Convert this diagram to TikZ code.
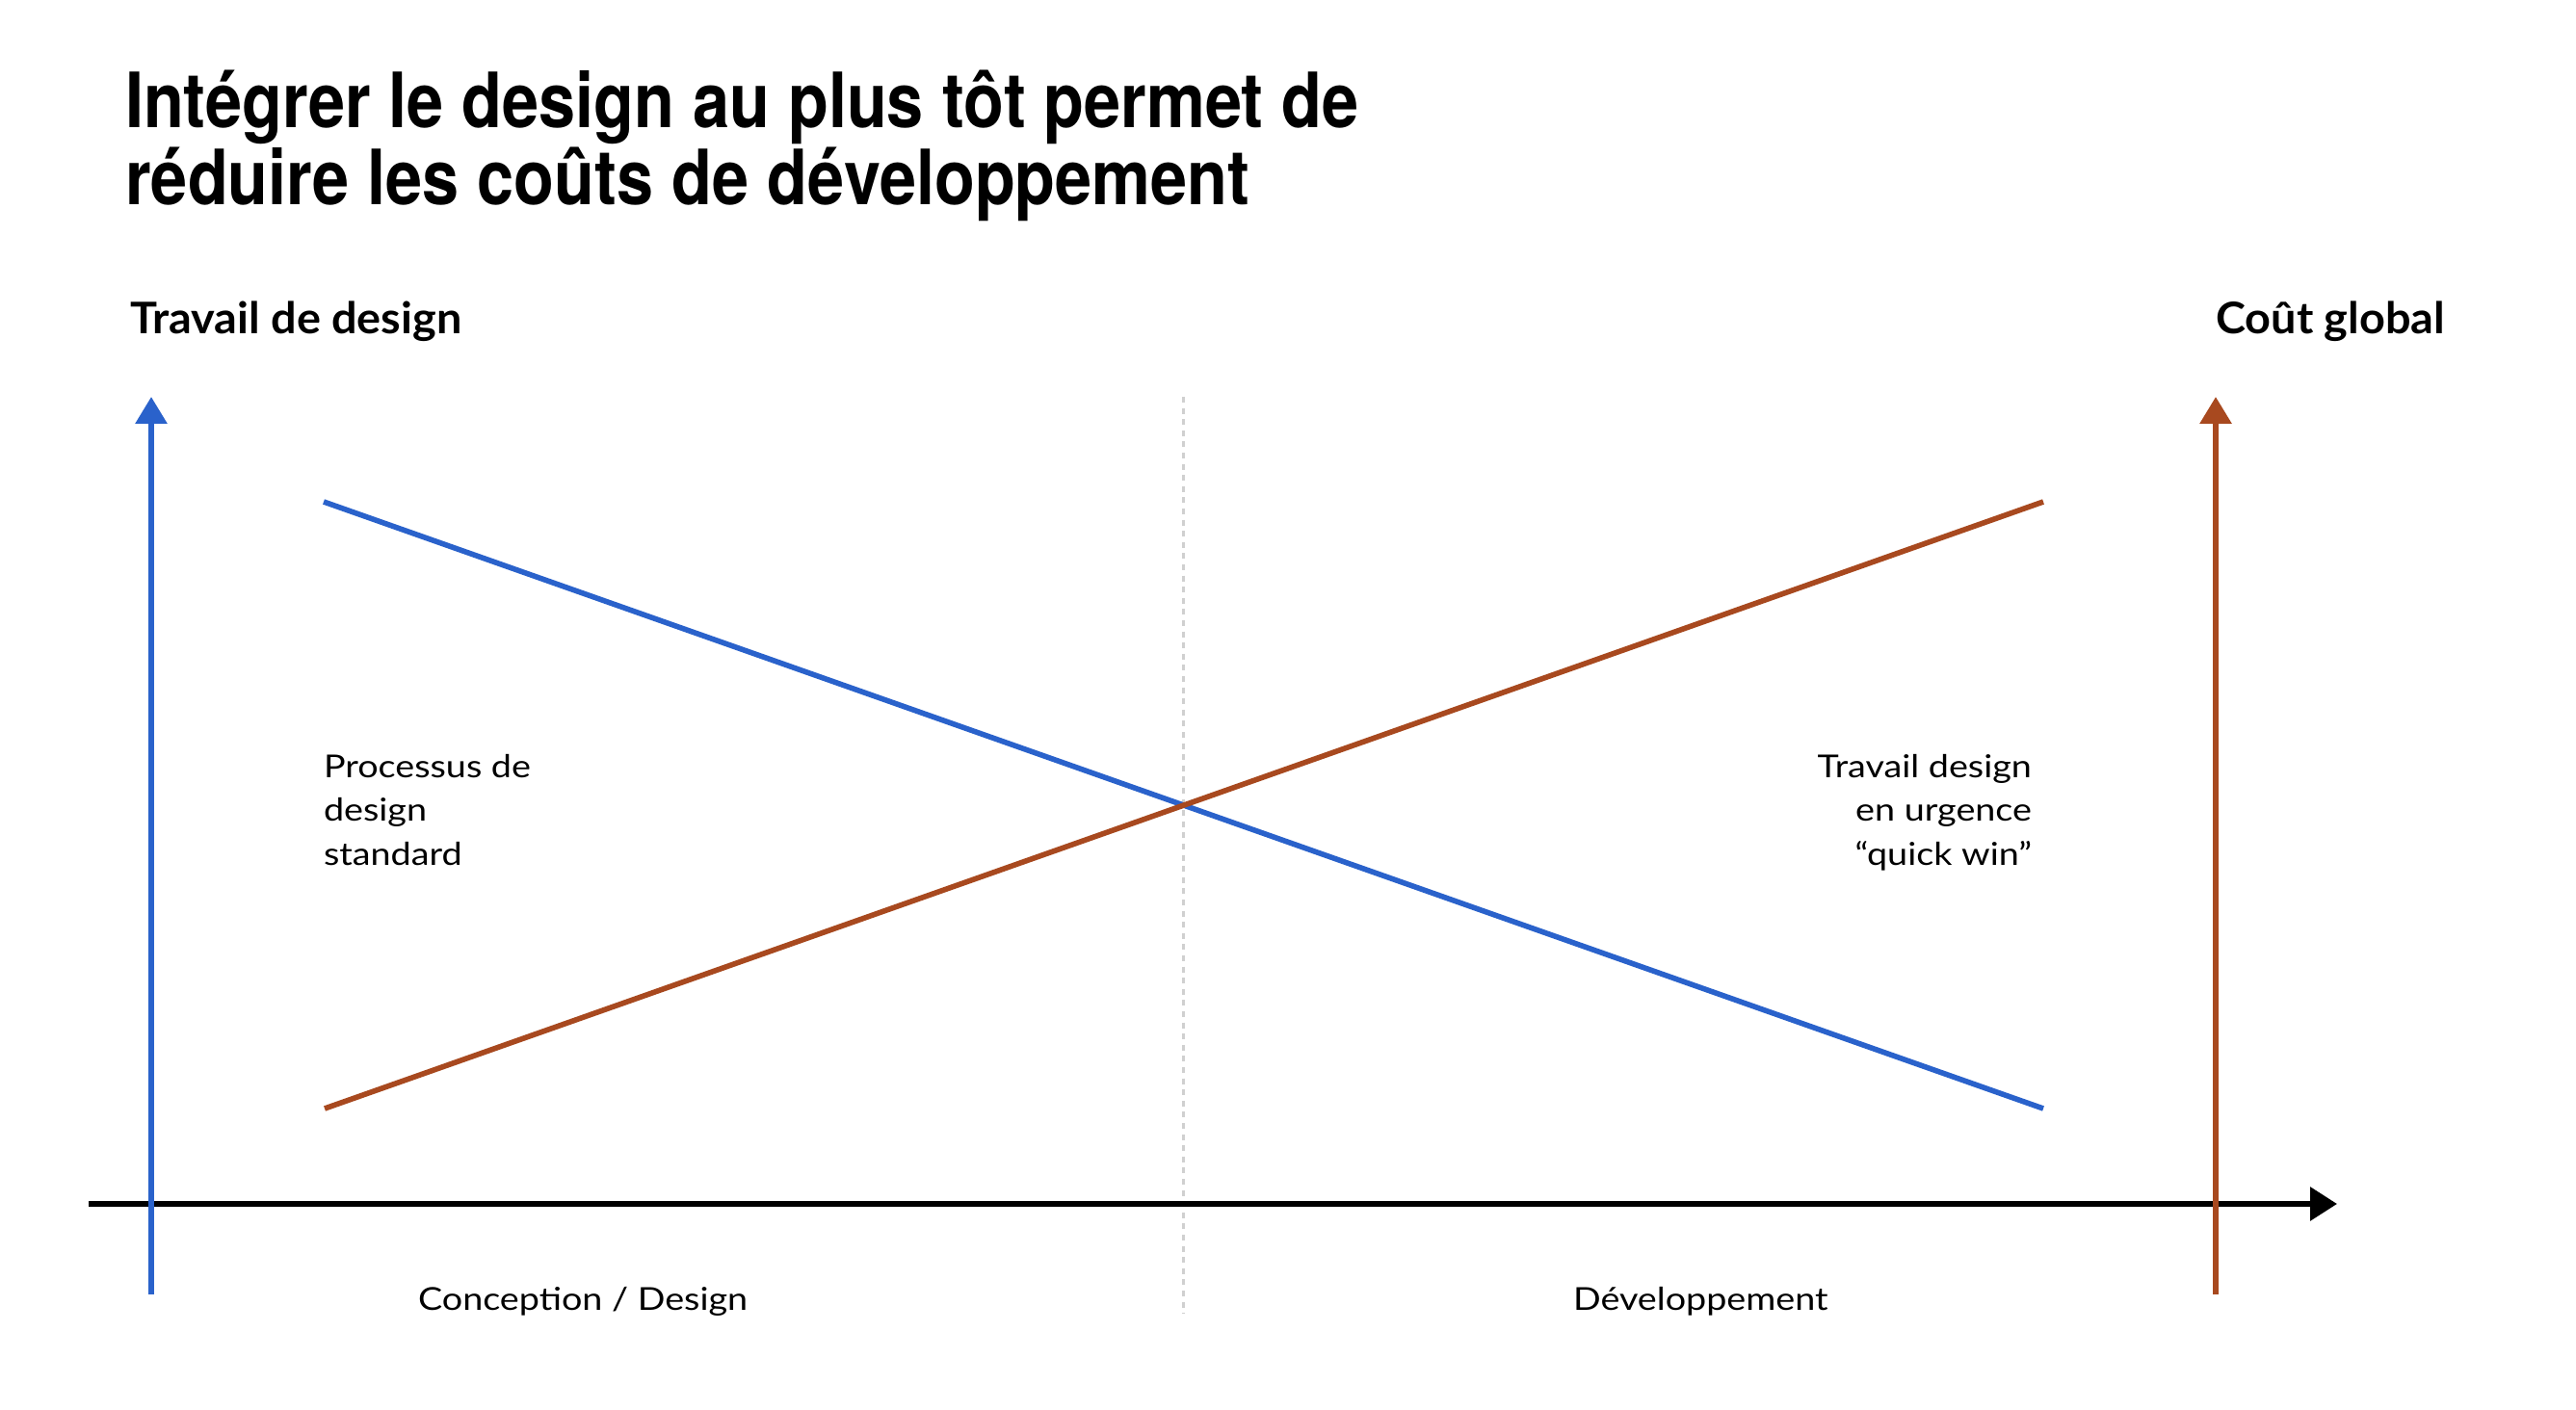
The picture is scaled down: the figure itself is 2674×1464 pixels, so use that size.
\documentclass[tikz,border=0pt]{standalone}
\usepackage{fontspec}
\setmainfont{Lato}
\newfontfamily\titlefont{TeX Gyre Heros}
\usetikzlibrary{arrows.meta}
\definecolor{cblue}{HTML}{2A62CB}
\definecolor{cbrown}{HTML}{A8491F}
\definecolor{cdash}{HTML}{D0D0D0}
\newcommand\sqTitle[1]{\scalebox{0.864}[1]{#1}}
\newcommand\sqAxis[1]{\scalebox{1.035}[1]{#1}}
\newcommand\sqBody[1]{\scalebox{1.15}[1]{#1}}
\begin{document}
\begin{tikzpicture}[x=0.25pt,y=-0.25pt,
  txt/.style={inner sep=0pt, outer sep=0pt, anchor=base west},
  txtr/.style={inner sep=0pt, outer sep=0pt, anchor=base east},
  ttl/.style={txt, font=\titlefont\bfseries\fontsize{19.8}{24}\selectfont},
  axlbl/.style={font=\bfseries\fontsize{11.3}{14}\selectfont},
  body/.style={font=\fontsize{8.2}{11}\selectfont},
  vaxis/.style={line width=1.5pt, -{Triangle[length=7pt,width=8pt]}},
  haxis/.style={line width=1.5pt, -{Triangle[length=7pt,width=8.5pt]}},
  trend/.style={line width=1.4pt},
  divider/.style={cdash, line width=0.75pt, dash pattern=on 1.5pt off 1.4pt}]
\useasboundingbox[fill=white] (0,0) rectangle (2674,1464);

% title
\node[ttl] (t1) at (130,133) {\sqTitle{Intégrer le design au plus tôt permet de}};
\node[ttl] (t2) at (130,213) {\sqTitle{réduire les coûts de développement}};

% axis labels
\node[txt, axlbl] (ly) at (135,347) {\sqAxis{Travail de design}};
\node[txtr, axlbl] (ry) at (2538,347) {\sqAxis{Coût global}};

% coordinates
\coordinate (bb) at (157,1344);
\coordinate (bt) at (157,412);
\coordinate (rb) at (2300,1344);
\coordinate (rt) at (2300,412);
\coordinate (hl) at (92,1250);
\coordinate (hr) at (2426,1250);
\coordinate (dt) at (1228,412);
\coordinate (db) at (1228,1364);
\coordinate (b1) at (336,521);
\coordinate (b2) at (2121,1151);
\coordinate (r1) at (337,1151);
\coordinate (r2) at (2121,521);

% divider
\draw[divider] (dt) -- (db);

% axes
\draw[haxis, black] (hl) -- (hr);
\draw[vaxis, cblue] (bb) -- (bt);
\draw[vaxis, cbrown] (rb) -- (rt);

% trend lines
\draw[trend, cblue] (b1) -- (b2);
\draw[trend, cbrown] (r1) -- (r2);

% body labels
\node[txt, body] (p1) at (336,807) {\sqBody{Processus de}};
\node[txt, body] (p2) at (336,852) {\sqBody{design}};
\node[txt, body] (p3) at (336,898) {\sqBody{standard}};
\node[txtr, body] (q1) at (2109,807) {\sqBody{Travail design}};
\node[txtr, body] (q2) at (2109,852) {\sqBody{en urgence}};
\node[txtr, body] (q3) at (2109,898) {\sqBody{“quick win”}};

% bottom labels
\node[txt, body] (c1) at (434,1360) {\sqBody{Conception / Design}};
\node[txt, body] (c2) at (1633,1360) {\sqBody{Développement}};
\end{tikzpicture}
\end{document}
